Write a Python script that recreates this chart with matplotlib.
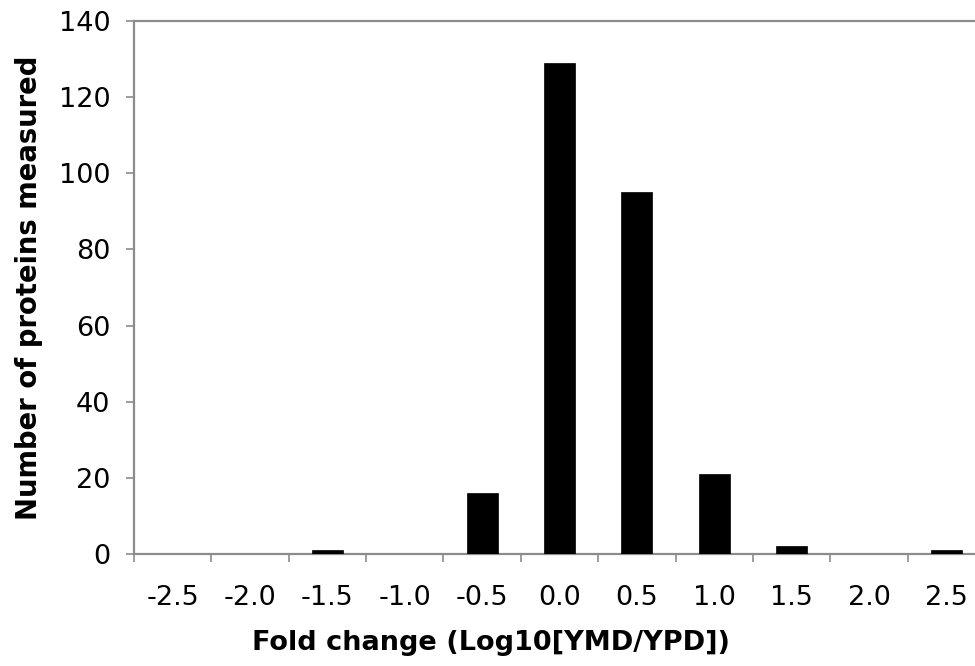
import matplotlib
matplotlib.use("Agg")
import matplotlib.pyplot as plt
import numpy as np

# Histogram of log10 fold change (YMD vs YPD)
bins = ["-2.5", "-2.0", "-1.5", "-1.0", "-0.5", "0.0", "0.5", "1.0", "1.5", "2.0", "2.5"]
counts = [0, 0, 1, 0, 16, 129, 95, 21, 2, 0, 1]
y_ticks = [0, 20, 40, 60, 80, 100, 120, 140]

W, H = 975, 666
fig = plt.figure(figsize=(W / 100, H / 100), dpi=100)
fig.patch.set_facecolor("white")

left, right, top, bottom = 134, 985, 21, 554
ax = fig.add_axes([left / W, (H - bottom) / H, (right - left) / W, (bottom - top) / H])

pos = np.arange(len(bins))
ax.bar(pos, counts, width=0.4, color="black", edgecolor="black", linewidth=0.5, zorder=3)

ax.set_xlim(-0.5, len(bins) - 0.5)
ax.set_ylim(0, 140)

grey = "#8c8c8c"
for side in ["left", "bottom", "top"]:
    ax.spines[side].set_color(grey)
    ax.spines[side].set_linewidth(1.6)
ax.spines["right"].set_visible(False)

font = "DejaVu Sans"
ax.set_yticks(y_ticks)
ax.set_yticklabels([str(v) for v in y_ticks], fontsize=19.5, family=font)
ax.tick_params(axis="y", direction="out", length=6, width=1.2, color=grey, pad=11)

ax.set_xticks(pos)
ax.set_xticklabels(bins, fontsize=19.5, family=font)
ax.set_xticks(np.arange(-0.5, len(bins), 1.0), minor=True)
ax.tick_params(axis="x", which="major", length=0, pad=22)
ax.tick_params(axis="x", which="minor", direction="out", length=6, width=1.2, color=grey)

fig.text(491 / W, 1 - 650 / H, "Fold change (Log10[YMD/YPD])", ha="center", va="baseline",
         fontsize=19.5, fontweight="bold", family=font)
fig.text(29 / W, 1 - 288 / H, "Number of proteins measured", ha="center", va="center",
         rotation=90, fontsize=19.8, fontweight="bold", family=font)

fig.savefig("out.png", dpi=100, facecolor="white")
